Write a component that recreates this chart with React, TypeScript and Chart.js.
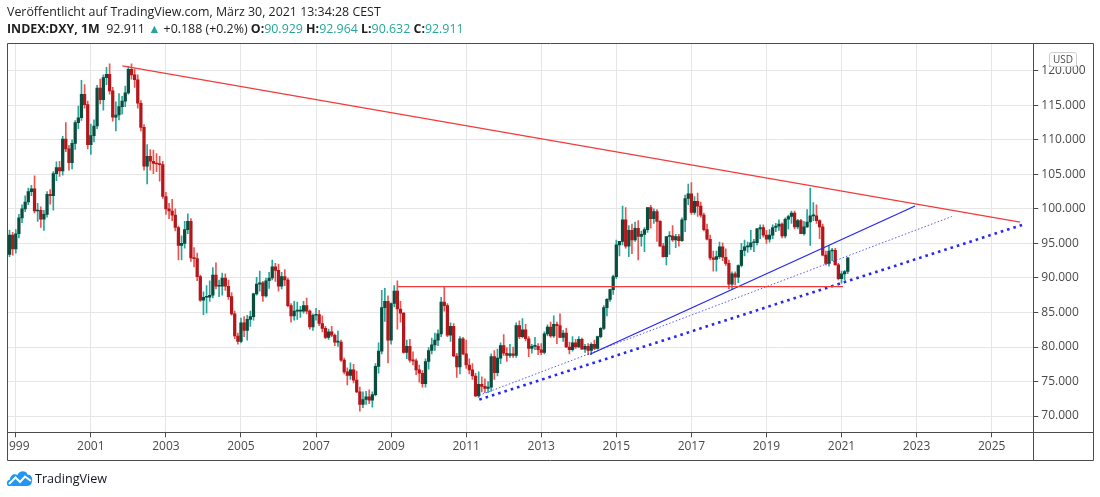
import { useEffect, useRef } from 'react';
import Chart from 'chart.js/auto';

// first candle is November 1998, one candle per month up to March 2021
const FIRST_YEAR = 1998;
const FIRST_MONTH = 11;
const FIRST_OPEN = 93.4;

// monthly closes, one row per year
const closes = [
  96.2, 94.2,
  96.4, 98.7, 100.0, 101.0, 102.5, 102.9, 99.7, 99.8, 98.5, 99.2, 102.1, 101.9,
  105.1, 106.0, 105.5, 110.1, 108.7, 106.7, 109.5, 112.5, 113.2, 116.6, 115.1, 109.3,
  110.6, 112.0, 117.5, 115.8, 119.0, 119.5, 117.1, 113.3, 113.6, 114.8, 115.6, 116.8,
  120.2, 119.4, 118.7, 115.3, 111.8, 106.2, 107.6, 106.9, 106.6, 106.5, 106.4, 101.8,
  100.0, 99.7, 99.1, 97.3, 94.7, 95.0, 97.0, 98.2, 92.9, 92.8, 90.2, 86.8,
  87.2, 87.2, 87.5, 90.4, 88.8, 88.8, 90.0, 88.8, 87.3, 84.8, 81.6, 80.8,
  83.5, 82.4, 84.0, 84.4, 87.7, 89.1, 89.3, 87.4, 89.6, 90.0, 91.6, 91.1,
  88.8, 90.2, 89.7, 86.0, 84.5, 85.2, 85.2, 85.2, 86.0, 85.2, 82.9, 84.6,
  84.7, 83.4, 82.7, 81.4, 82.2, 81.7, 80.7, 80.7, 78.1, 76.4, 75.9, 76.7,
  75.2, 73.5, 71.7, 72.4, 72.8, 72.3, 73.1, 77.2, 79.4, 85.7, 86.6, 81.0,
  86.3, 88.1, 85.5, 84.9, 79.2, 80.1, 78.1, 78.0, 76.7, 76.2, 74.7, 77.9,
  79.5, 80.3, 81.0, 81.9, 86.5, 86.0, 81.7, 83.0, 78.7, 77.1, 81.2, 79.0,
  77.4, 76.7, 75.8, 72.9, 74.6, 74.3, 74.0, 74.2, 78.6, 76.3, 78.4, 80.2,
  79.1, 78.8, 79.0, 78.8, 83.1, 81.5, 82.5, 81.2, 79.8, 80.1, 80.1, 79.6,
  79.2, 81.9, 82.9, 81.6, 83.3, 83.1, 81.4, 82.0, 80.0, 79.6, 80.6, 80.0,
  81.1, 79.7, 80.1, 79.5, 80.4, 79.8, 81.5, 82.7, 85.7, 86.9, 88.3, 90.2,
  94.8, 95.3, 98.4, 94.6, 96.9, 95.5, 97.2, 96.0, 96.3, 97.0, 100.2, 98.6,
  99.6, 98.2, 94.6, 93.1, 96.0, 96.1, 95.5, 96.0, 95.4, 98.4, 101.5, 102.2,
  99.5, 101.1, 100.4, 99.1, 97.0, 95.6, 92.9, 92.7, 93.1, 94.5, 93.0, 92.1,
  89.1, 90.6, 90.1, 91.8, 94.0, 94.5, 94.5, 95.1, 95.1, 97.1, 97.3, 96.2,
  95.6, 96.2, 97.3, 97.5, 97.8, 96.1, 98.5, 98.9, 99.4, 97.4, 98.3, 96.4,
  97.4, 98.1, 99.0, 99.0, 98.3, 97.4, 93.3, 92.1, 93.9, 94.0, 91.9, 89.9,
  90.6, 90.929, 92.911,
];

const highs = [
  96.9, 96.6,
  97.0, 99.2, 100.6, 101.9, 103.0, 103.4, 104.8, 100.8, 100.3, 99.8, 102.5, 102.8,
  105.4, 106.8, 106.9, 110.5, 112.5, 109.2, 110.0, 112.8, 114.9, 118.6, 118.0, 115.6,
  112.3, 112.9, 117.9, 118.8, 119.4, 120.5, 121.0, 117.6, 115.5, 116.7, 116.3, 117.8,
  120.6, 121.0, 120.3, 119.4, 115.7, 112.2, 109.3, 108.6, 108.5, 108.0, 107.6, 106.9,
  102.4, 100.8, 101.4, 100.0, 97.5, 96.1, 98.2, 99.3, 98.6, 94.4, 93.6, 90.4,
  88.0, 88.9, 89.6, 91.5, 92.2, 89.7, 90.7, 90.6, 89.7, 87.9, 85.2, 82.0,
  84.2, 84.4, 84.6, 85.2, 87.8, 90.1, 91.0, 89.5, 90.0, 90.8, 92.6, 92.1,
  92.0, 90.8, 91.2, 90.0, 86.3, 86.6, 86.5, 85.9, 86.6, 87.1, 85.4, 84.8,
  85.6, 85.3, 84.5, 83.0, 82.6, 83.0, 81.9, 82.3, 81.0, 78.4, 77.0, 77.7,
  77.5, 76.5, 74.2, 73.5, 73.6, 73.8, 73.5, 77.6, 80.6, 88.2, 88.5, 87.4,
  86.4, 88.9, 89.6, 86.6, 85.0, 81.0, 81.1, 79.3, 78.3, 77.4, 76.6, 78.3,
  79.9, 81.3, 82.0, 82.5, 87.2, 88.7, 86.3, 83.5, 83.4, 79.1, 81.5, 81.4,
  81.0, 78.3, 77.6, 76.2, 76.4, 75.7, 75.4, 75.0, 79.0, 79.5, 79.7, 80.6,
  81.8, 79.9, 80.4, 80.0, 83.5, 83.8, 84.1, 83.3, 81.5, 80.4, 81.4, 80.5,
  80.5, 82.2, 83.2, 83.6, 84.5, 83.6, 84.8, 82.4, 82.7, 80.7, 81.5, 81.1,
  81.5, 81.3, 80.4, 80.5, 80.6, 81.0, 81.6, 82.8, 86.0, 87.0, 88.4, 90.4,
  95.5, 95.3, 100.4, 100.2, 97.6, 97.8, 98.1, 98.3, 96.8, 97.3, 100.2, 100.5,
  100.0, 99.9, 98.3, 95.0, 96.0, 96.7, 97.6, 96.3, 96.3, 98.7, 102.0, 103.6,
  103.8, 101.8, 102.3, 101.0, 99.4, 97.8, 96.2, 93.9, 93.9, 95.2, 95.1, 94.2,
  92.6, 90.9, 90.9, 91.9, 95.0, 95.5, 95.2, 96.9, 95.6, 97.2, 97.7, 97.7,
  96.9, 97.0, 97.7, 97.9, 98.4, 98.0, 98.7, 99.1, 99.7, 99.7, 98.5, 98.5,
  98.2, 99.9, 103.0, 100.9, 100.6, 98.4, 97.8, 93.9, 94.7, 94.3, 94.3, 92.1,
  91.0, 91.1, 92.964,
];

const lows = [
  93.1, 93.3,
  93.6, 95.8, 98.0, 99.6, 100.6, 101.9, 99.4, 98.2, 97.3, 96.9, 98.8, 100.7,
  99.8, 104.1, 104.7, 104.9, 108.3, 105.6, 105.8, 108.6, 111.6, 112.8, 114.6, 108.7,
  107.9, 109.7, 111.6, 115.2, 114.3, 118.0, 116.6, 112.7, 111.3, 112.9, 113.7, 114.8,
  116.6, 118.8, 117.6, 114.6, 111.3, 105.6, 103.6, 105.6, 105.1, 105.4, 104.0, 101.5,
  99.2, 98.6, 98.3, 96.8, 92.6, 92.6, 94.3, 96.4, 92.4, 91.6, 89.6, 86.6,
  84.7, 84.9, 86.6, 87.1, 88.4, 87.3, 87.5, 88.2, 86.9, 84.6, 81.2, 80.4,
  80.6, 81.5, 81.0, 83.0, 83.9, 87.5, 88.1, 86.6, 87.2, 88.5, 89.7, 89.5,
  88.1, 88.4, 88.9, 85.8, 83.6, 83.9, 84.0, 84.3, 84.9, 84.8, 82.6, 82.4,
  83.9, 83.1, 82.2, 81.2, 81.1, 81.5, 80.2, 80.1, 77.9, 76.1, 74.5, 75.3,
  74.8, 73.4, 70.7, 71.2, 71.7, 71.8, 71.3, 72.9, 76.2, 79.0, 83.7, 77.7,
  80.4, 85.8, 82.6, 83.6, 79.1, 78.3, 77.8, 77.4, 76.0, 74.9, 74.2, 74.2,
  76.8, 79.0, 79.5, 80.2, 81.5, 85.2, 81.5, 80.8, 78.6, 75.6, 76.1, 78.9,
  76.9, 76.1, 75.3, 72.8, 72.7, 73.5, 73.4, 73.4, 73.6, 75.3, 75.8, 77.6,
  78.8, 77.9, 78.5, 78.5, 78.5, 81.2, 81.3, 80.9, 78.6, 79.1, 79.6, 78.9,
  78.9, 79.0, 81.6, 81.4, 81.4, 80.5, 81.4, 80.8, 79.9, 79.0, 79.4, 79.8,
  79.9, 79.7, 79.2, 78.9, 78.9, 79.6, 79.7, 81.3, 82.5, 84.5, 86.6, 87.6,
  89.9, 93.2, 94.8, 94.3, 93.1, 93.5, 95.3, 92.6, 94.6, 93.8, 96.6, 97.2,
  97.9, 95.3, 94.6, 93.0, 91.9, 93.4, 95.3, 94.4, 94.6, 95.3, 96.7, 100.6,
  99.2, 99.2, 98.9, 98.8, 96.8, 95.5, 92.6, 91.0, 91.0, 92.8, 92.5, 91.8,
  88.4, 88.3, 89.0, 89.3, 91.6, 93.2, 93.7, 94.1, 93.8, 94.8, 95.7, 95.9,
  95.0, 95.2, 95.7, 96.7, 96.9, 95.8, 95.8, 97.1, 97.9, 97.1, 97.1, 96.4,
  96.2, 97.3, 94.7, 98.3, 97.9, 95.7, 93.2, 91.9, 91.7, 92.5, 91.9, 89.7,
  89.2, 89.7, 90.632,
];

const yearTicks = [1999, 2001, 2003, 2005, 2007, 2009, 2011, 2013, 2015, 2017, 2019, 2021, 2023, 2025];
const priceTicks = [70, 75, 80, 85, 90, 95, 100, 105, 110, 115, 120];

// drawn lines: [year, price] at each end
const resistanceLine = [[2001.84, 120.7], [2025.76, 98.1]];
const levelLine = [[2009.17, 88.74], [2021.04, 88.74]];
const channelLine = [[2014.3, 78.95], [2022.96, 100.42]];
const thinSupportLine = [[2011.35, 73.0], [2023.94, 98.9]];
const thickSupportLine = [[2011.35, 72.38], [2025.81, 97.67]];

const UP_BODY = '#0b4c3d';
const UP_WICK = '#26a69a';
const DOWN_BODY = '#b3171c';
const DOWN_WICK = '#ef5350';
const RED = '#f23b3b';
const BLUE = '#2727f2';
const AXIS_FONT = { family: '"Open Sans", sans-serif', size: 12 };

const framePlugin = {
  id: 'frame',
  afterDraw(chart: any) {
    const { ctx, chartArea: a, scales } = chart;
    const outerRight = a.right + scales.y.width;
    const outerBottom = a.bottom + scales.x.height;
    const px = (v: number) => Math.round(v) + 0.5;
    ctx.save();
    // the first year label is cut by the left frame
    ctx.fillStyle = '#ffffff';
    ctx.fillRect(0, a.bottom + 1, px(a.left), scales.x.height);
    ctx.strokeStyle = '#4c4c4c';
    ctx.lineWidth = 1;
    ctx.beginPath();
    ctx.rect(px(a.left), px(a.top), px(outerRight) - px(a.left), px(outerBottom) - px(a.top));
    ctx.moveTo(px(a.right), px(a.top));
    ctx.lineTo(px(a.right), px(outerBottom));
    ctx.moveTo(px(a.left), px(a.bottom));
    ctx.lineTo(px(outerRight), px(a.bottom));
    ctx.stroke();
    ctx.restore();
  },
};

const toPoints = (line: number[][]) => line.map(([x, y]) => ({ x, y }));

const DxyChart = () => {
  const chartRef = useRef<HTMLCanvasElement>(null);
  const chartInstance = useRef<Chart | null>(null);

  useEffect(() => {
    if (!chartRef.current) return;
    if (chartInstance.current) chartInstance.current.destroy();

    const times = closes.map((_, i) => FIRST_YEAR + (FIRST_MONTH - 1 + i) / 12);
    const opens = closes.map((_, i) => (i === 0 ? FIRST_OPEN : closes[i - 1]));
    const isUp = closes.map((c, i) => c >= opens[i]);

    const lineStyle = { type: 'line' as const, pointRadius: 0, fill: false, tension: 0 };

    chartInstance.current = new Chart(chartRef.current, {
      type: 'bar',
      data: {
        datasets: [
          { ...lineStyle, data: toPoints(resistanceLine), borderColor: RED, borderWidth: 1.3, order: 0 },
          { ...lineStyle, data: toPoints(levelLine), borderColor: RED, borderWidth: 1.4, order: 0 },
          { ...lineStyle, data: toPoints(channelLine), borderColor: BLUE, borderWidth: 1.3, order: 0 },
          {
            ...lineStyle,
            data: toPoints(thinSupportLine),
            borderColor: 'rgba(50, 50, 245, 0.8)',
            borderWidth: 1,
            borderDash: [1.5, 2],
            order: 0,
          },
          {
            ...lineStyle,
            data: toPoints(thickSupportLine),
            borderColor: BLUE,
            borderWidth: 2.6,
            borderDash: [2.6, 4],
            order: 0,
          },
          {
            type: 'bar',
            data: times.map((x, i) => ({ x, y: [opens[i], closes[i]] })),
            backgroundColor: isUp.map((u) => (u ? UP_BODY : DOWN_BODY)),
            barThickness: 2.6,
            minBarLength: 1,
            grouped: false,
            order: 1,
          },
          {
            type: 'bar',
            data: times.map((x, i) => ({ x, y: [lows[i], highs[i]] })),
            backgroundColor: isUp.map((u) => (u ? UP_WICK : DOWN_WICK)),
            barThickness: 1,
            grouped: false,
            order: 2,
          },
        ] as any,
      },
      options: {
        animation: false,
        responsive: false,
        events: [],
        layout: { padding: { left: 6.7, top: 43.3, right: 6.7, bottom: 37 } },
        plugins: { legend: { display: false }, tooltip: { enabled: false } },
        scales: {
          x: {
            type: 'linear',
            min: 1998.771,
            max: 2026.11,
            offset: false,
            border: { display: false },
            grid: { color: '#e6e6e6', offset: false, tickColor: '#4c4c4c', tickLength: 5 },
            ticks: {
              color: '#4a4a4a',
              font: AXIS_FONT,
              padding: 2,
              maxRotation: 0,
              autoSkip: false,
              callback: (v: any) => String(v),
            },
            afterBuildTicks: (s: any) => {
              s.ticks = yearTicks.map((value) => ({ value }));
            },
            afterFit: (s: any) => {
              s.height = 27.7;
            },
          },
          y: {
            type: 'linear',
            position: 'right',
            min: 67.65,
            max: 123.98,
            border: { display: false },
            grid: { color: '#e6e6e6', tickColor: '#4c4c4c', tickLength: 5 },
            ticks: {
              color: '#4a4a4a',
              font: AXIS_FONT,
              padding: 3,
              autoSkip: false,
              callback: (v: any) => Number(v).toFixed(3),
            },
            afterBuildTicks: (s: any) => {
              s.ticks = priceTicks.map((value) => ({ value }));
            },
            afterFit: (s: any) => {
              s.width = 60;
            },
          },
        },
      } as any,
      plugins: [framePlugin],
    });

    return () => {
      if (chartInstance.current) {
        chartInstance.current.destroy();
        chartInstance.current = null;
      }
    };
  }, []);

  return <canvas ref={chartRef} width={1100} height={497} style={{ width: 1100, height: 497, display: 'block' }} />;
};

const teal = { color: '#26a69a' };

const App = () => (
  <div
    style={{
      position: 'fixed',
      left: 0,
      top: 0,
      width: 1100,
      height: 497,
      background: '#ffffff',
      fontFamily: '"Open Sans", sans-serif',
      color: '#1f1f1f',
      overflow: 'hidden',
    }}
  >
    <DxyChart />
    <div style={{ position: 'absolute', left: 7, top: 3, fontSize: 12.4, lineHeight: '17px', whiteSpace: 'nowrap' }}>
      <div>Veröffentlicht auf TradingView.com, März 30, 2021 13:34:28 CEST</div>
      <div>
        <b>INDEX:DXY, 1M</b>&nbsp; 92.911 <span style={teal}>▲</span> +0.188 (+0.2%) <b>O:</b>
        <span style={teal}>90.929</span> <b>H:</b>
        <span style={teal}>92.964</span> <b>L:</b>
        <span style={teal}>90.632</span> <b>C:</b>
        <span style={teal}>92.911</span>
      </div>
    </div>
    <div
      style={{
        position: 'absolute',
        left: 1049,
        top: 52,
        width: 26,
        height: 13,
        border: '1px solid #cfcfcf',
        borderRadius: 3,
        background: '#ffffff',
        fontSize: 10,
        lineHeight: '13px',
        textAlign: 'center',
        color: '#4a4a4a',
      }}
    >
      USD
    </div>
    <div style={{ position: 'absolute', left: 6, top: 469, display: 'flex', alignItems: 'center' }}>
      <svg width="27" height="18" viewBox="0 0 27 18">
        <path
          d="M3 17 C0 17 0 11 4 10.5 C4 6 8.5 4 11.5 6 C13 1.5 20 1 21.5 5.5 C25 5.5 27 9 26 12.5 C25.5 15.5 24 17 21 17 Z"
          fill="#2196f3"
        />
        <path d="M3 15 L9.5 8.5 L14 13 L19 7.5 L25 12" stroke="#ffffff" strokeWidth="2" fill="none" />
      </svg>
      <span style={{ marginLeft: 2, fontSize: 12.6, color: '#131722' }}>TradingView</span>
    </div>
  </div>
);

export default App;
